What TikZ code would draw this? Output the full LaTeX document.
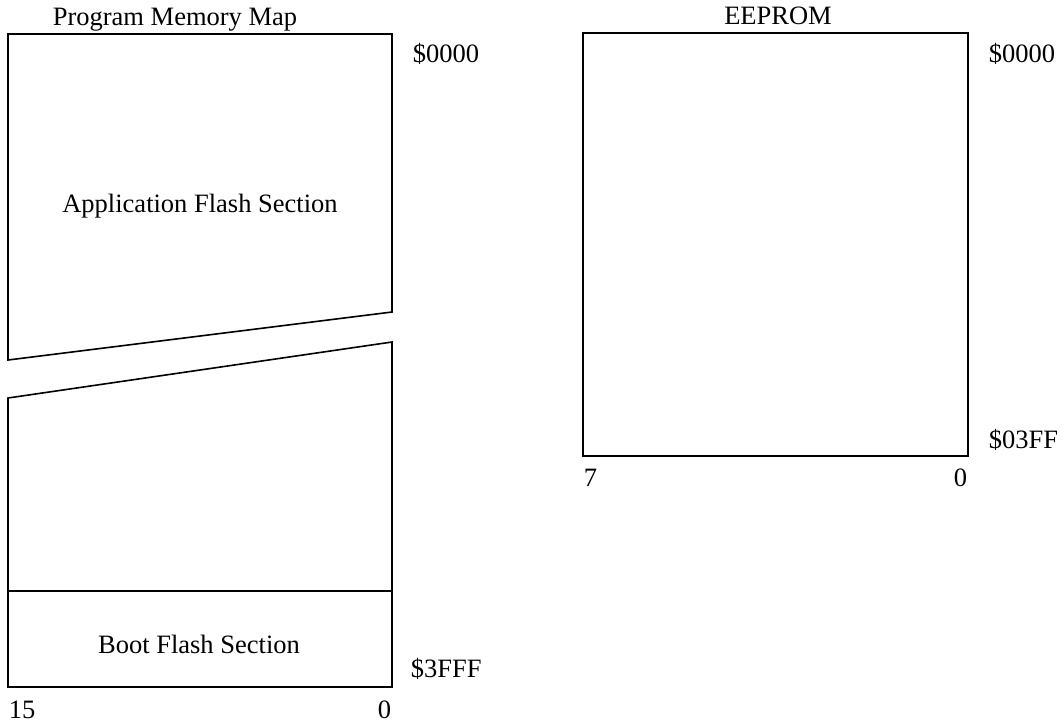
\documentclass[tikz,border=0pt]{standalone}
\usepackage{fontspec}
\setmainfont{Liberation Serif}
\begin{document}
\begin{tikzpicture}[x=1pt, y=-1pt, line width=1.6pt,
  lbl/.style={font=\fontsize{26.5}{30}\selectfont, inner sep=0pt}]
  \useasboundingbox (0,0) rectangle (1063,724);

  % Program memory, upper part (application flash)
  \draw (8,360) -- (8,34) -- (392,34) -- (392,312) -- cycle;
  % Program memory, lower part with boot flash section
  \draw (8,398) -- (392,342) -- (392,687) -- (8,687) -- cycle;
  \draw (8,591) -- (392,591);

  % Program memory labels
  \node[lbl, anchor=base] (pmtitle) at (175,25) {Program Memory Map};
  \node[lbl, anchor=base] (app) at (200,212) {Application Flash Section};
  \node[lbl, anchor=base] (boot) at (199,653) {Boot Flash Section};
  \node[lbl, anchor=base west] (pmstart) at (412,62) {\$0000};
  \node[lbl, anchor=base west] (pmend) at (410,677) {\$3FFF};
  \node[lbl, anchor=base west] (pmmsb) at (8,718) {15};
  \node[lbl, anchor=base east] (pmlsb) at (392,718) {0};

  % EEPROM
  \draw (583,33) rectangle (968,456);
  \node[lbl, anchor=base] (eetitle) at (778,24) {EEPROM};
  \node[lbl, anchor=base west] (eestart) at (988,62) {\$0000};
  \node[lbl, anchor=base west] (eeend) at (988,448) {\$03FF};
  \node[lbl, anchor=base west] (eemsb) at (583,486) {7};
  \node[lbl, anchor=base east] (eelsb) at (968,486) {0};
\end{tikzpicture}
\end{document}
